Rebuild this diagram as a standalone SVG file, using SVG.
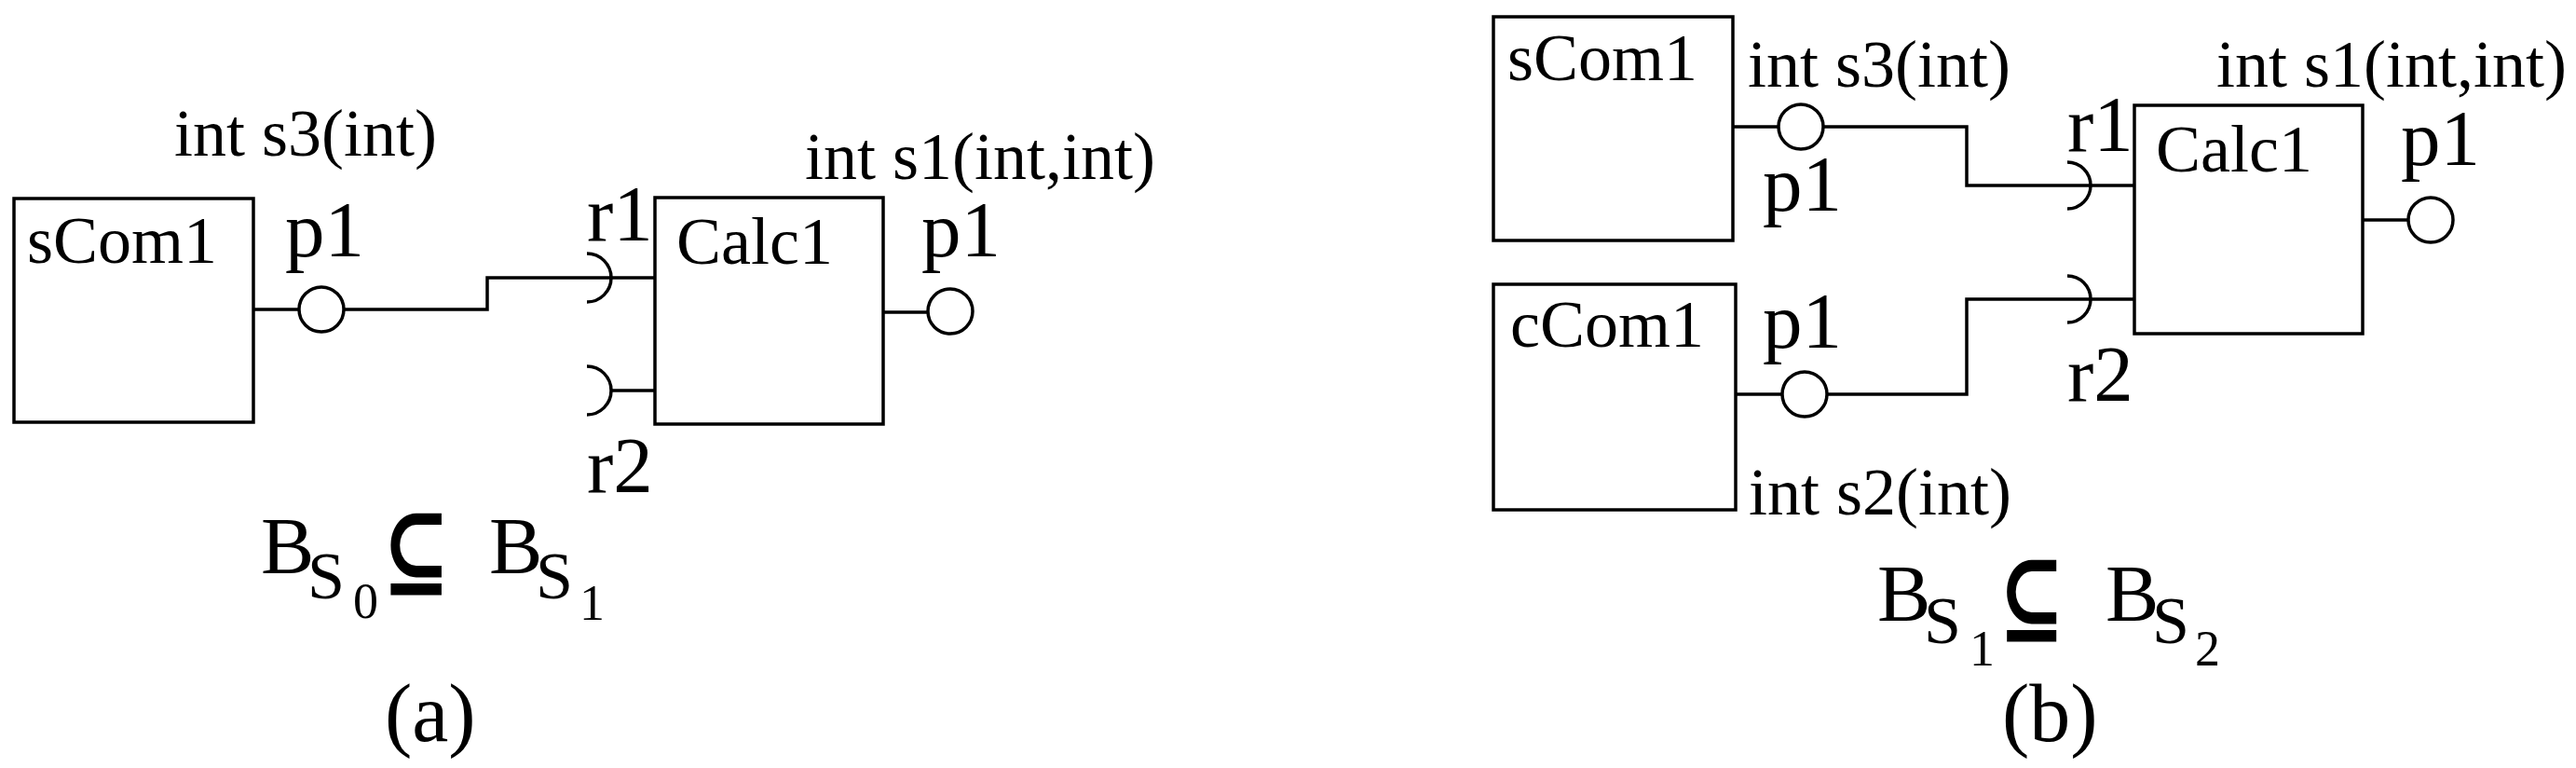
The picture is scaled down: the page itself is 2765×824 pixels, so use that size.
<svg xmlns="http://www.w3.org/2000/svg" width="2765" height="824" viewBox="0 0 2765 824">
<style>
  .bg { fill: #ffffff; }
  .box { fill: #ffffff; stroke: #000000; stroke-width: 3.5; }
  .port { fill: #ffffff; stroke: #000000; stroke-width: 3.5; }
  .wire { fill: none; stroke: #000000; stroke-width: 3.5; }
  .sock { fill: none; stroke: #000000; stroke-width: 3.5; }
  text { font-family: "Liberation Serif", "Times New Roman", serif; fill: #000000; }
  .lbl { font-size: 72px; }
  .pl { font-size: 85px; }
  .fb { font-size: 86px; }
  .fs { font-size: 72px; }
  .fd { font-size: 54px; }
  .sub { font-family: "DejaVu Serif", "DejaVu Sans", serif; font-size: 110px; font-weight: bold; }
  .cap { font-size: 88px; }
</style>
<rect class="bg" x="0" y="0" width="2765" height="824"/>

<!-- ===== Panel (a) ===== -->
<g id="connectors-a">
  <path class="wire" d="M272,332 H321 M369,332 H523 V298 H703"/>
  <path class="wire" d="M656,419 H703"/>
  <path class="wire" d="M948,335 H996"/>
  <path class="sock" d="M630,272 A26,26 0 0 1 630,324"/>
  <path class="sock" d="M630,393 A26,26 0 0 1 630,445"/>
</g>
<g id="a-sCom1">
  <rect class="box" x="15" y="213" width="257" height="240"/>
  <text class="lbl" x="29" y="282">sCom1</text>
  <text class="lbl" x="187" y="167">int s3(int)</text>
  <circle class="port" cx="345" cy="332" r="24"/>
  <text class="pl" x="306" y="275">p1</text>
</g>
<g id="a-Calc1">
  <rect class="box" x="703" y="212" width="245" height="243"/>
  <text class="lbl" x="726" y="283">Calc1</text>
  <text class="lbl" x="864" y="192">int s1(int,int)</text>
  <text class="pl" x="630" y="258">r1</text>
  <text class="pl" x="630" y="528">r2</text>
  <circle class="port" cx="1020" cy="334" r="24"/>
  <text class="pl" x="989" y="275">p1</text>
</g>
<g id="a-formula">
  <text class="fb" x="280" y="615">B</text>
  <text class="fs" x="330" y="642">S</text>
  <text class="fd" x="379" y="663">0</text>
  <text class="sub" x="410" y="629" textLength="73" lengthAdjust="spacingAndGlyphs">⊆</text>
  <text class="fb" x="525" y="615">B</text>
  <text class="fs" x="575" y="642">S</text>
  <text class="fd" x="622" y="665">1</text>
  <text class="cap" x="413" y="795">(a)</text>
</g>

<!-- ===== Panel (b) ===== -->
<g id="connectors-b">
  <path class="wire" d="M1860,136 H1909 M1957,136 H2111 V199 H2291"/>
  <path class="wire" d="M1863,423 H1913 M1961,423 H2111 V321 H2291"/>
  <path class="wire" d="M2536,236 H2585"/>
  <path class="sock" d="M2219,174 A25,25 0 0 1 2219,224"/>
  <path class="sock" d="M2219,296 A25,25 0 0 1 2219,346"/>
</g>
<g id="b-sCom1">
  <rect class="box" x="1603" y="18" width="257" height="240"/>
  <text class="lbl" x="1618" y="86">sCom1</text>
  <text class="lbl" x="1876" y="93">int s3(int)</text>
  <circle class="port" cx="1933" cy="136" r="24"/>
  <text class="pl" x="1892" y="226">p1</text>
</g>
<g id="b-cCom1">
  <rect class="box" x="1603" y="305" width="260" height="242"/>
  <text class="lbl" x="1621" y="372">cCom1</text>
  <text class="lbl" x="1877" y="552">int s2(int)</text>
  <circle class="port" cx="1937" cy="423" r="24"/>
  <text class="pl" x="1892" y="373">p1</text>
</g>
<g id="b-Calc1">
  <rect class="box" x="2291" y="113" width="245" height="245"/>
  <text class="lbl" x="2314" y="184">Calc1</text>
  <text class="lbl" x="2379" y="93">int s1(int,int)</text>
  <text class="pl" x="2219" y="162">r1</text>
  <text class="pl" x="2219" y="430">r2</text>
  <circle class="port" cx="2609" cy="236" r="24"/>
  <text class="pl" x="2577" y="177">p1</text>
</g>
<g id="b-formula">
  <text class="fb" x="2015" y="666">B</text>
  <text class="fs" x="2065" y="690">S</text>
  <text class="fd" x="2114" y="714">1</text>
  <text class="sub" x="2145" y="679" textLength="71" lengthAdjust="spacingAndGlyphs">⊆</text>
  <text class="fb" x="2260" y="666">B</text>
  <text class="fs" x="2310" y="690">S</text>
  <text class="fd" x="2356" y="714">2</text>
  <text class="cap" x="2149" y="795">(b)</text>
</g>
</svg>
